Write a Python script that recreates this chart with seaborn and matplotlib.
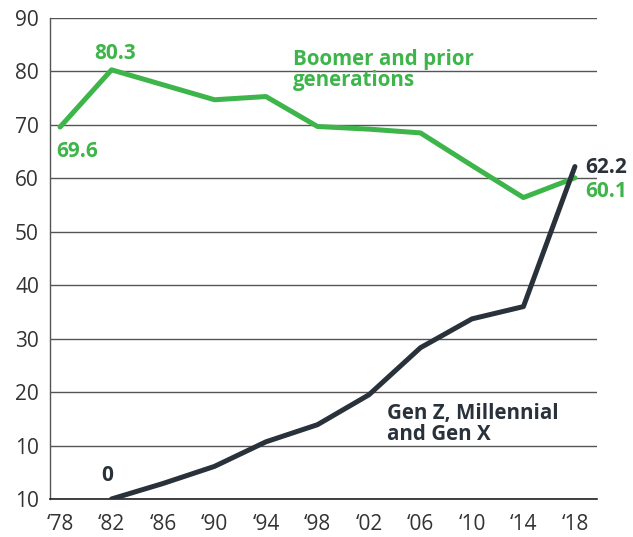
import pandas as pd
import matplotlib
matplotlib.use('Agg')
import matplotlib.pyplot as plt
import seaborn as sns

years = [1978, 1982, 1986, 1990, 1994, 1998, 2002, 2006, 2010, 2014, 2018]
boomer = [69.6, 80.3, 77.5, 74.7, 75.3, 69.7, 69.2, 68.5, 62.4, 56.4, 60.1]
genz = [None, 0, 2.9, 6.1, 10.7, 13.9, 19.5, 28.3, 33.7, 36.0, 62.2]
xtick_labels = ['\u201878', '\u201882', '\u201886', '\u201890', '\u201894', '\u201898',
                '\u201802', '\u201806', '\u201810', '\u201814', '\u201818']
ytick_values = [0, 10, 20, 30, 40, 50, 60, 70, 80, 90]
ytick_labels = ['10', '10', '20', '30', '40', '50', '60', '70', '80', '90']

GREEN = '#3db54a'
DARK = '#29323a'

df = pd.DataFrame({'year': years, 'Boomer': boomer, 'GenZ': genz})
df = df.melt(id_vars='year', var_name='group', value_name='share').dropna()

sns.set_theme(style='white')
plt.rcParams['font.family'] = ['Open Sans', 'DejaVu Sans']

fig = plt.figure(figsize=(6.33, 5.37), dpi=100)
ax = fig.add_axes([0.079, 0.0708, 0.864, 0.8957])

sns.lineplot(data=df, x='year', y='share', hue='group',
             palette={'Boomer': GREEN, 'GenZ': DARK},
             linewidth=3.6, legend=False, ax=ax, zorder=3)

ax.set_xlim(1977.22, 2019.71)
ax.set_ylim(0, 90)
ax.set_xticks(years)
ax.set_xticklabels(xtick_labels)
ax.set_yticks(ytick_values)
ax.set_yticklabels(ytick_labels)
ax.set_xlabel('')
ax.set_ylabel('')
ax.tick_params(axis='x', length=0, pad=11, labelsize=15, labelcolor='#333333')
ax.tick_params(axis='y', length=0, pad=8, labelsize=15, labelcolor='#333333')

ax.yaxis.grid(True, color='#555555', linewidth=1)
ax.set_axisbelow(True)
for s in ['top', 'right']:
    ax.spines[s].set_visible(False)
ax.spines['left'].set_color('#555555')
ax.spines['left'].set_linewidth(1)
ax.spines['bottom'].set_color('#222222')
ax.spines['bottom'].set_linewidth(1.2)

lab = dict(fontsize=15, fontweight='bold')
ax.text(1982.3, 83.3, '80.3', color=GREEN, ha='center', va='center', **lab)
ax.text(1977.7, 65.0, '69.6', color=GREEN, ha='left', va='center', **lab)
ax.text(2018.8, 62.0, '62.2', color=DARK, ha='left', va='center', **lab)
ax.text(2018.8, 57.6, '60.1', color=GREEN, ha='left', va='center', **lab)
ax.text(1981.7, 4.4, '0', color=DARK, ha='center', va='center', **lab)

ax.text(1996.1, 80.3, 'Boomer and prior\ngenerations', color=GREEN,
        ha='left', va='center', fontsize=14.8, fontweight='bold', linespacing=1.0)
ax.text(2003.4, 14.0, 'Gen Z, Millennial\nand Gen X', color=DARK,
        ha='left', va='center', fontsize=14.8, fontweight='bold', linespacing=1.0)

fig.savefig('out.png', dpi=100)
